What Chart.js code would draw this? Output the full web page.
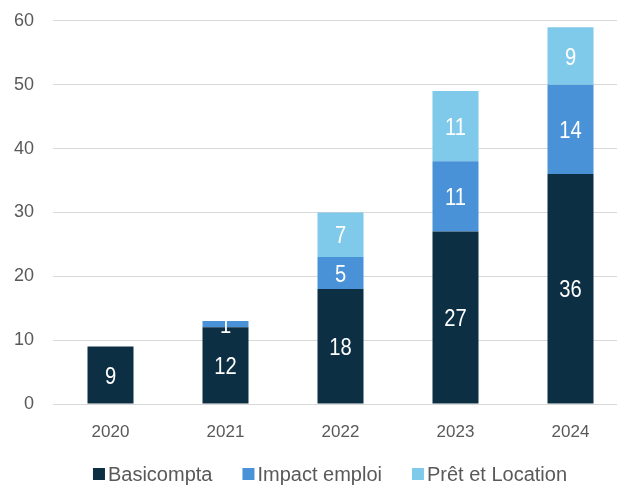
<!DOCTYPE html>
<html>
<head>
<meta charset="utf-8">
<script src="https://cdn.jsdelivr.net/npm/chart.js@4/dist/chart.umd.min.js"></script>
<style>
  html, body { margin: 0; padding: 0; background: #fff; }
  #wrap { width: 617px; height: 486px; overflow: hidden; position: relative; }
  #myChart { position: absolute; left: 0; top: -9px; }
</style>
</head>
<body>
<div id="wrap"><canvas id="myChart" width="640" height="495"></canvas></div>
<script>
// chart data
const years = ['2020', '2021', '2022', '2023', '2024'];
const basicompta = [9, 12, 18, 27, 36];
const impactEmploi = [0, 1, 5, 11, 14];
const pretLocation = [0, 0, 7, 11, 9];
const yTicks = [0, 10, 20, 30, 40, 50, 60];

const FONT = "'Liberation Sans', Arial, sans-serif";
const GREY = '#595959';

// white value labels drawn inside each segment, slightly condensed
const barLabels = {
    id: 'barLabels',
    afterDatasetsDraw(chart) {
        const ctx = chart.ctx;
        ctx.save();
        ctx.fillStyle = '#ffffff';
        ctx.font = '24px ' + FONT;
        ctx.textAlign = 'center';
        ctx.textBaseline = 'middle';
        chart.data.datasets.forEach((ds, i) => {
            const meta = chart.getDatasetMeta(i);
            meta.data.forEach((bar, j) => {
                const v = ds.data[j];
                if (!v) return;
                const cy = (bar.y + bar.base) / 2;
                ctx.save();
                ctx.translate(bar.x, cy + 2);
                ctx.scale(0.84, 1);
                ctx.fillText(String(v), 0, 0);
                ctx.restore();
            });
        });
        ctx.restore();
    }
};

// legend drawn by hand so it can be centred on the visible page
const bottomLegend = {
    id: 'bottomLegend',
    afterDraw(chart) {
        const ctx = chart.ctx;
        const box = 12, gap = 3, spacing = 30, centre = 330, y = 483;
        ctx.save();
        ctx.font = '20px ' + FONT;
        ctx.textBaseline = 'middle';
        const items = chart.data.datasets.map(ds => ({
            text: ds.label, color: ds.backgroundColor, w: box + gap + ctx.measureText(ds.label).width
        }));
        let total = items.reduce((s, it) => s + it.w, 0) + spacing * (items.length - 1);
        let x = centre - total / 2;
        items.forEach(it => {
            ctx.fillStyle = it.color;
            ctx.fillRect(x, y - box / 2, box, box);
            ctx.fillStyle = GREY;
            ctx.fillText(it.text, x + box + gap, y + 1);
            x += it.w + spacing;
        });
        ctx.restore();
    }
};

let ctx = document.getElementById('myChart').getContext('2d');
let myChart = new Chart(ctx, {
    type: 'bar',
    data: {
        labels: years,
        datasets: [
            { label: 'Basicompta', data: basicompta, backgroundColor: '#0d2f43' },
            { label: 'Impact emploi', data: impactEmploi, backgroundColor: '#4a92d8' },
            { label: 'Prêt et Location', data: pretLocation, backgroundColor: '#7fcaea' }
        ]
    },
    options: {
        responsive: false,
        animation: false,
        layout: { padding: { left: 0, right: 12, top: 20, bottom: 42 } },
        datasets: {
            bar: { barPercentage: 0.4, categoryPercentage: 1.0, borderWidth: 0 }
        },
        scales: {
            x: {
                stacked: true,
                afterFit(scale) { scale.height = 40; },
                grid: { display: false, drawTicks: false },
                border: { display: true, color: '#d9d9d9', width: 1 },
                ticks: { color: GREY, font: { family: FONT, size: 17 }, padding: 18 }
            },
            y: {
                stacked: true,
                min: 0,
                max: 60,
                afterBuildTicks(scale) { scale.ticks = yTicks.map(v => ({ value: v })); },
                afterFit(scale) { scale.width = 53; },
                grid: { color: '#d9d9d9', lineWidth: 1, drawTicks: false },
                border: { display: false },
                ticks: { color: GREY, font: { family: FONT, size: 18 }, padding: 19 }
            }
        },
        plugins: {
            legend: { display: false },
            tooltip: { enabled: false }
        }
    },
    plugins: [barLabels, bottomLegend]
});
</script>
</body>
</html>
